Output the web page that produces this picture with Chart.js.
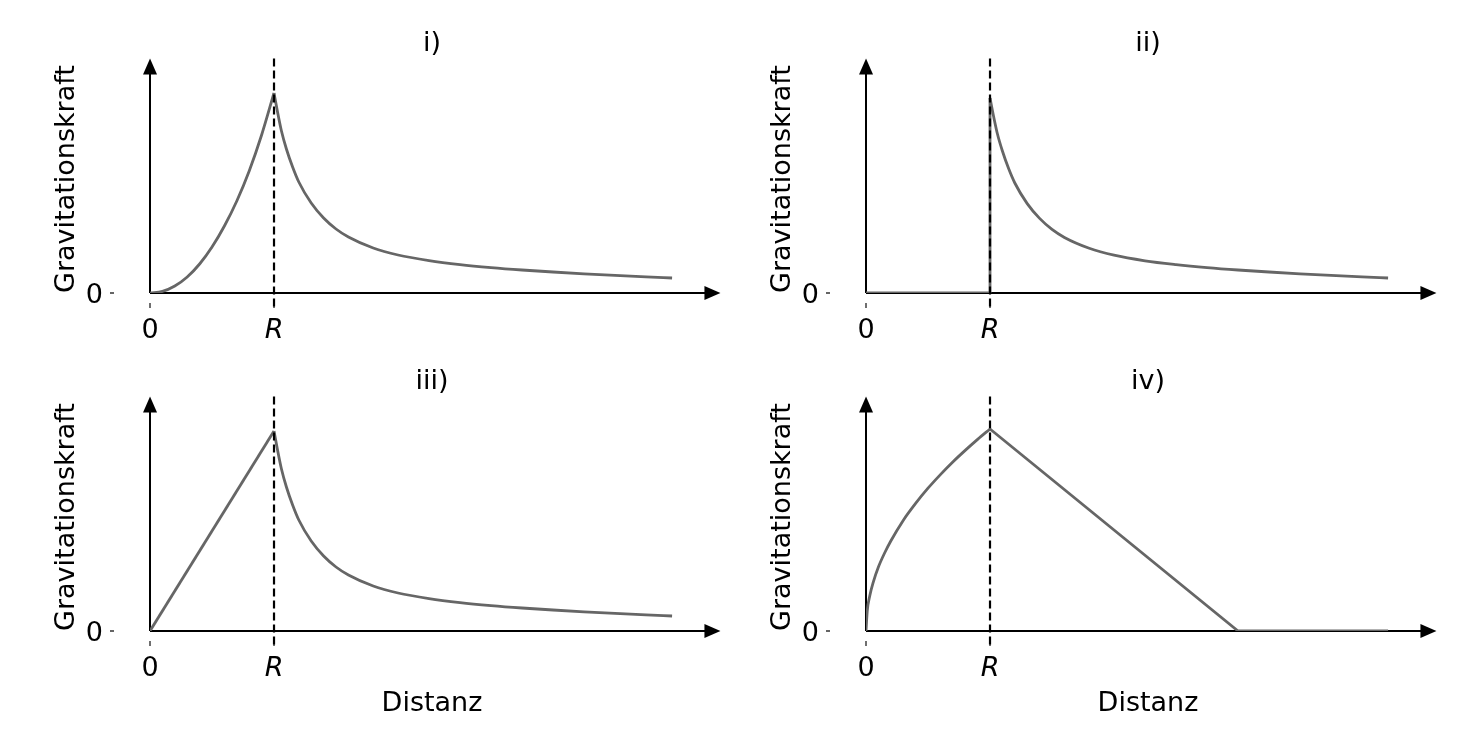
<!DOCTYPE html>
<html>
<head>
<meta charset="utf-8">
<title>Gravitationskraft</title>
<script src="https://cdn.jsdelivr.net/npm/chart.js@4.4.1/dist/chart.umd.min.js"></script>
<style>
  html, body { margin: 0; background: #fff; overflow: hidden; }
  #wrap { position: relative; width: 1482px; height: 735px; }
  #wrap canvas { position: absolute; }
</style>
</head>
<body>
<div id="wrap">
  <canvas id="p1" width="766" height="397" style="left:0;top:0"></canvas>
  <canvas id="p2" width="766" height="397" style="left:716px;top:0"></canvas>
  <canvas id="p3" width="766" height="397" style="left:0;top:338px"></canvas>
  <canvas id="p4" width="766" height="397" style="left:716px;top:338px"></canvas>
</div>
<script>
// values: distance in units of R, force relative to the peak
const panelTitles = ['i)', 'ii)', 'iii)', 'iv)'];
const xTickValues = [0, 1];
const xTickLabels = ['0', 'R'];
const yTickValues = [0];
const yTickLabels = ['0'];
const xAxisTitle = 'Distanz';
const yAxisTitle = 'Gravitationskraft';

// i) inside
const insideX1 = [0, 0.1, 0.2, 0.3, 0.4, 0.5, 0.6, 0.7, 0.8, 0.9, 1.0];
const insideY1 = [0, 0.008, 0.035, 0.08, 0.145, 0.23, 0.335, 0.46, 0.61, 0.79, 1.0];
// i) and iii) outside
const outsideX = [1.0, 1.03, 1.06, 1.1, 1.15, 1.2, 1.3, 1.4, 1.5, 1.6, 1.8, 2.0, 2.25, 2.5, 2.75, 3.0, 3.25, 3.5, 3.75, 4.0, 4.21];
const outsideY = [1.0, 0.9, 0.81, 0.72, 0.63, 0.555, 0.45, 0.375, 0.32, 0.28, 0.225, 0.19, 0.162, 0.142, 0.127, 0.115, 0.105, 0.096, 0.088, 0.0805, 0.075];

// ii)
const insideX2 = [0, 1, 1];
const insideY2 = [0, 0, 0.975];
const outsideX2 = [1.0, 1.03, 1.06, 1.1, 1.15, 1.2, 1.3, 1.4, 1.5, 1.6, 1.8, 2.0, 2.25, 2.5, 2.75, 3.0, 3.25, 3.5, 3.75, 4.0, 4.21];
const outsideY2 = [0.975, 0.88, 0.795, 0.71, 0.622, 0.55, 0.447, 0.373, 0.318, 0.278, 0.224, 0.189, 0.161, 0.142, 0.127, 0.115, 0.105, 0.096, 0.088, 0.0805, 0.075];

// iii) inside
const insideX3 = [0, 1];
const insideY3 = [0, 1.0];

// iv)
const insideX4 = [0, 0.01, 0.03, 0.06, 0.1, 0.15, 0.2, 0.3, 0.4, 0.5, 0.6, 0.7, 0.8, 0.9, 1.0];
const insideY4 = [0, 0.1, 0.175, 0.247, 0.32, 0.39, 0.45, 0.553, 0.638, 0.714, 0.782, 0.845, 0.903, 0.958, 1.01];
const outsideX4 = [1.0, 3.0, 4.21];
const outsideY4 = [1.01, 0, 0];

const FONT = 'DejaVu Sans';
const CURVE = '#666666';
const X_MAX = 4.548;      // end of the plot box
const Y_MAX = 1.178;
const X_ARROW = 4.6;      // arrow tips
const Y_ARROW = 1.172;

const toPoints = (xs, ys) => xs.map((x, i) => ({ x: x, y: ys[i] }));

const sketchAxes = {
  id: 'sketchAxes',
  beforeDatasetsDraw(chart) {
    const { ctx, scales: { x, y } } = chart;
    const x0 = x.getPixelForValue(0), y0 = y.getPixelForValue(0);
    const xe = x.getPixelForValue(X_ARROW), ye = y.getPixelForValue(Y_ARROW);
    ctx.save();
    ctx.strokeStyle = '#000';
    ctx.fillStyle = '#000';
    ctx.lineWidth = 2;
    ctx.beginPath();
    ctx.moveTo(x0, y0); ctx.lineTo(xe - 12, y0);
    ctx.moveTo(x0, y0); ctx.lineTo(x0, ye + 12);
    ctx.stroke();
    ctx.beginPath();
    ctx.moveTo(xe, y0); ctx.lineTo(xe - 16, y0 - 7); ctx.lineTo(xe - 16, y0 + 7);
    ctx.closePath(); ctx.fill();
    ctx.beginPath();
    ctx.moveTo(x0, ye); ctx.lineTo(x0 - 7, ye + 16); ctx.lineTo(x0 + 7, ye + 16);
    ctx.closePath(); ctx.fill();

    // small tick marks, set off from the axes
    ctx.strokeStyle = '#333';
    ctx.lineWidth = 1.4;
    ctx.beginPath();
    xTickValues.forEach(v => {
      const px = x.getPixelForValue(v);
      ctx.moveTo(px, y0 + 10); ctx.lineTo(px, y0 + 15);
    });
    yTickValues.forEach(v => {
      const py = y.getPixelForValue(v);
      ctx.moveTo(x0 - 40, py); ctx.lineTo(x0 - 36, py);
    });
    ctx.stroke();
    ctx.restore();
  },
  afterDatasetsDraw(chart) {
    const { ctx, scales: { x, y } } = chart;
    const px = x.getPixelForValue(1);
    ctx.save();
    ctx.strokeStyle = '#000';
    ctx.lineWidth = 2.2;
    ctx.setLineDash([8, 4]);
    ctx.beginPath();
    ctx.moveTo(px, y.getPixelForValue(Y_ARROW));
    ctx.lineTo(px, y.getPixelForValue(0) + 15);
    ctx.stroke();
    ctx.restore();
  }
};

function line(xs, ys, smooth) {
  return {
    data: toPoints(xs, ys),
    showLine: true,
    borderColor: CURVE,
    borderWidth: 2.8,
    pointRadius: 0,
    fill: false,
    tension: 0,
    cubicInterpolationMode: smooth ? 'monotone' : 'default'
  };
}

function makePanel(id, title, datasets, withXTitle) {
  new Chart(document.getElementById(id), {
    type: 'scatter',
    data: { datasets: datasets },
    plugins: [sketchAxes],
    options: {
      responsive: false,
      animation: false,
      events: [],
      layout: { padding: { left: 0, right: 52, top: 0, bottom: 0 } },
      plugins: {
        legend: { display: false },
        tooltip: { enabled: false },
        title: {
          display: true,
          text: title,
          color: '#000',
          fullSize: false,
          font: { family: FONT, size: 27, weight: 'normal' },
          padding: { top: 28, bottom: -3 }
        }
      },
      scales: {
        x: {
          type: 'linear',
          min: 0,
          max: X_MAX,
          grid: { display: false, drawTicks: false },
          border: { display: false },
          afterBuildTicks: s => { s.ticks = xTickValues.map(v => ({ value: v })); },
          afterFit: s => { s.height = 104; s.paddingLeft = 0; s.paddingRight = 0; },
          ticks: {
            color: '#000',
            padding: 22,
            maxRotation: 0,
            font: c => ({ family: FONT, size: 27, style: c.tick && c.tick.value === 1 ? 'italic' : 'normal' }),
            callback: v => xTickLabels[xTickValues.indexOf(v)]
          },
          title: {
            display: withXTitle,
            text: xAxisTitle,
            color: '#000',
            font: { family: FONT, size: 27 },
            padding: { top: 0, bottom: 15 }
          }
        },
        y: {
          type: 'linear',
          min: 0,
          max: Y_MAX,
          grid: { display: false, drawTicks: false },
          border: { display: false },
          afterBuildTicks: s => { s.ticks = yTickValues.map(v => ({ value: v })); },
          afterFit: s => { s.width = 150; s.paddingTop = 0; s.paddingBottom = 0; },
          ticks: {
            color: '#000',
            padding: 47,
            labelOffset: 3,
            font: { family: FONT, size: 27 },
            callback: v => yTickLabels[yTickValues.indexOf(v)]
          },
          title: {
            display: true,
            text: yAxisTitle,
            align: 'start',
            color: '#000',
            font: { family: FONT, size: 27 },
            padding: { top: 51, bottom: 0 }
          }
        }
      }
    }
  });
}

makePanel('p1', panelTitles[0], [line(insideX1, insideY1, true), line(outsideX, outsideY, true)], false);
makePanel('p2', panelTitles[1], [line(insideX2, insideY2, false), line(outsideX2, outsideY2, true)], false);
makePanel('p3', panelTitles[2], [line(insideX3, insideY3, false), line(outsideX, outsideY, true)], true);
makePanel('p4', panelTitles[3], [line(insideX4, insideY4, true), line(outsideX4, outsideY4, false)], true);
</script>
</body>
</html>
